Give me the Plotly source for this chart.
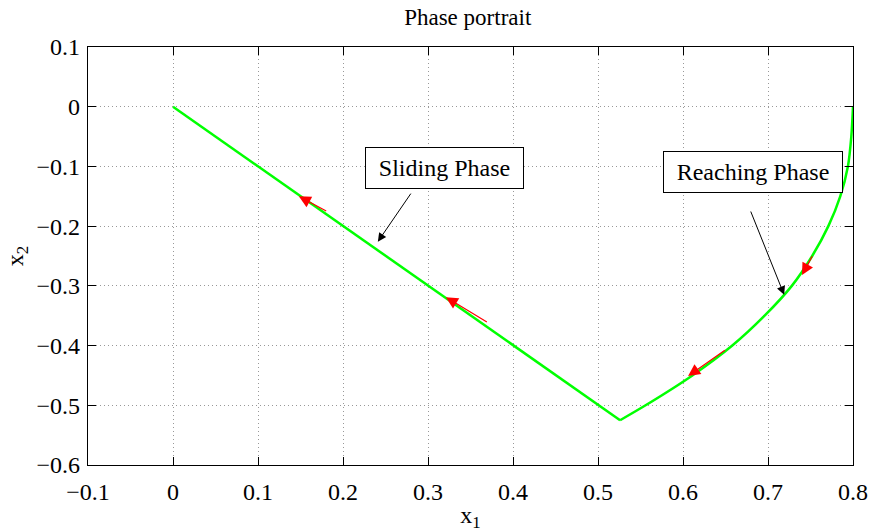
import plotly.graph_objects as go

# Sliding phase (straight line from vertex to origin)
slide_x1 = [0.526, 0.0]
slide_x2 = [-0.525, 0.0]

# Reaching phase (curve from (0.8, 0) down to the vertex)
reach_x1 = [0.800, 0.798, 0.794, 0.785, 0.771, 0.752, 0.728, 0.696, 0.658, 0.611, 0.556, 0.526]
reach_x2 = [0.000, -0.050, -0.100, -0.150, -0.200, -0.250, -0.300, -0.350, -0.400, -0.450, -0.500, -0.525]

# Red direction arrows: (tail x, tail y, head x, head y)
red_tail_x = [0.182, 0.371, 0.753, 0.651]
red_tail_y = [-0.176, -0.362, -0.248, -0.406]
red_head_x = [0.148, 0.321, 0.740, 0.606]
red_head_y = [-0.150, -0.319, -0.282, -0.451]

# Text labels with pointer arrows
label_text = ["Sliding Phase", "Reaching Phase"]
label_x = [0.3194, 0.6824]
label_y = [-0.1018, -0.1094]
label_w = [153, 174]
ptr_tail_x = [0.281, 0.679]
ptr_tail_y = [-0.143, -0.173]
ptr_head_x = [0.241, 0.719]
ptr_head_y = [-0.226, -0.315]

x_ticks = [-0.1, 0, 0.1, 0.2, 0.3, 0.4, 0.5, 0.6, 0.7, 0.8]
y_ticks = [-0.6, -0.5, -0.4, -0.3, -0.2, -0.1, 0, 0.1]


def lab(v):
    s = ("%g" % v)
    return s.replace("-", "\u2212")


FONT = "Liberation Serif, Times New Roman, serif"
GREEN = "#00ff00"
FS = 24

fig = go.Figure()
fig.add_trace(go.Scatter(x=reach_x1, y=reach_x2, mode="lines",
                         line=dict(color=GREEN, width=2.5, shape="spline", smoothing=0.8),
                         showlegend=False, hoverinfo="skip"))
fig.add_trace(go.Scatter(x=slide_x1, y=slide_x2, mode="lines",
                         line=dict(color=GREEN, width=2.5),
                         showlegend=False, hoverinfo="skip"))

annotations = []
for tx, ty, hx, hy in zip(red_tail_x, red_tail_y, red_head_x, red_head_y):
    annotations.append(dict(x=hx, y=hy, ax=tx, ay=ty, xref="x", yref="y",
                            axref="x", ayref="y", text="", showarrow=True,
                            arrowhead=2, arrowsize=2.0, arrowwidth=1.2,
                            arrowcolor="#ff0000"))
for tx, ty, hx, hy in zip(ptr_tail_x, ptr_tail_y, ptr_head_x, ptr_head_y):
    annotations.append(dict(x=hx, y=hy, ax=tx, ay=ty, xref="x", yref="y",
                            axref="x", ayref="y", text="", showarrow=True,
                            arrowhead=2, arrowsize=1.7, arrowwidth=1,
                            arrowcolor="#000000"))
for t, x, y, w in zip(label_text, label_x, label_y, label_w):
    annotations.append(dict(x=x, y=y, xref="x", yref="y", text=t,
                            showarrow=False, bgcolor="white",
                            bordercolor="black", borderwidth=1, borderpad=2,
                            width=w, height=36,
                            font=dict(family=FONT, size=FS, color="black")))

fig.update_layout(
    width=871, height=532,
    margin=dict(l=88, r=18, t=47, b=67, autoexpand=False),
    paper_bgcolor="white", plot_bgcolor="white",
    title=dict(text="Phase portrait", x=0.537, xanchor="center",
               y=1 - 17 / 532, yref="container", yanchor="middle",
               font=dict(family=FONT, size=23, color="black")),
    font=dict(family=FONT, size=FS, color="black"),
    annotations=annotations,
)

axis_common = dict(
    showline=True, linecolor="black", linewidth=1.3, mirror="allticks",
    ticks="inside", ticklen=8, tickcolor="black", tickwidth=1,
    showgrid=True, gridcolor="#999999", gridwidth=1, griddash="1px,3px",
    zeroline=False, automargin=False,
    tickfont=dict(family=FONT, size=FS, color="black"),
)

fig.update_xaxes(range=[-0.1, 0.8], tickvals=x_ticks,
                 ticktext=[lab(v) for v in x_ticks],
                 title=dict(text="x<sub>1</sub>", standoff=2,
                            font=dict(family=FONT, size=FS)),
                 ticklabelstandoff=5, **axis_common)
fig.update_yaxes(range=[-0.6, 0.1], tickvals=y_ticks,
                 ticktext=[lab(v) for v in y_ticks],
                 title=dict(text="x<sub>2</sub>", standoff=6,
                            font=dict(family=FONT, size=FS)),
                 ticklabelstandoff=2, **axis_common)

fig.write_html("out.html")
